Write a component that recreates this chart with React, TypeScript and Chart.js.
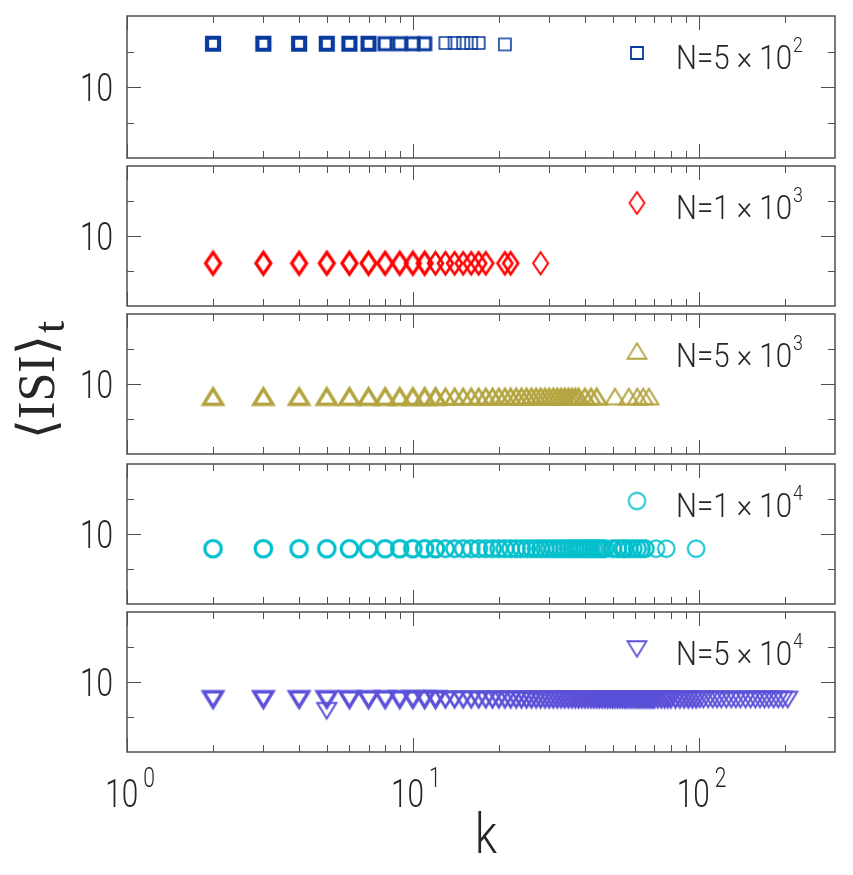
import React, { useEffect, useRef } from 'react';
import { Chart, registerables } from 'chart.js';

Chart.register(...registerables);

const WIDTH = 853;
const HEIGHT = 875;

// ---- node degree k and time-averaged inter-spike interval, one pair of arrays per network size ----
const kN500 = [2, 3, 4, 5, 6, 7, 8, 9, 10, 11, 13, 14, 15, 16, 17, 21];
const isiN500 = [16.1, 16.1, 16.1, 16.1, 16.1, 16.1, 16.1, 16.1, 16.1, 16.1, 16.2, 16.2, 16.2, 16.2, 16.2, 16.0];

const kN1000 = [2, 3, 4, 5, 6, 7, 8, 9, 10, 11, 12, 13, 14, 15, 16, 17, 18, 21, 22, 28];
const isiN1000 = [
  6.1, 6.1, 6.1, 6.1, 6.1, 6.1, 6.1, 6.1, 6.1, 6.1,
  6.1, 6.1, 6.1, 6.1, 6.1, 6.1, 6.1, 6.1, 6.1, 6.1,
];

const kN5000 = [
  2, 3, 4, 5, 6, 7, 8, 9, 10, 11,
  12, 13, 14, 15, 16, 17, 18, 19, 20, 21,
  22, 23, 24, 25, 26, 27, 28, 29, 30, 31,
  32, 33, 34, 35, 36, 37, 38, 40, 42, 44,
  51, 57, 61, 64, 67,
];
const isiN5000 = [
  8.2, 8.2, 8.2, 8.2, 8.2, 8.2, 8.2, 8.2, 8.2, 8.2,
  8.2, 8.2, 8.2, 8.2, 8.2, 8.2, 8.2, 8.2, 8.2, 8.2,
  8.2, 8.2, 8.2, 8.2, 8.2, 8.2, 8.2, 8.2, 8.2, 8.2,
  8.2, 8.2, 8.2, 8.2, 8.2, 8.2, 8.2, 8.2, 8.2, 8.2,
  8.2, 8.2, 8.2, 8.2, 8.2,
];

const kN10000 = [
  2, 3, 4, 5, 6, 7, 8, 9, 10, 11,
  12, 13, 14, 15, 16, 17, 18, 19, 20, 21,
  22, 23, 24, 25, 26, 27, 28, 29, 30, 31,
  32, 33, 34, 35, 36, 37, 38, 39, 40, 41,
  42, 43, 44, 45, 46, 47, 50, 52, 54, 55,
  57, 59, 61, 63, 65, 71, 77, 98,
];
const isiN10000 = [
  7.9, 7.9, 7.9, 7.9, 7.9, 7.9, 7.9, 7.9, 7.9, 7.9,
  7.9, 7.9, 7.9, 7.9, 7.9, 7.9, 7.9, 7.9, 7.9, 7.9,
  7.9, 7.9, 7.9, 7.9, 7.9, 7.9, 7.9, 7.9, 7.9, 7.9,
  7.9, 7.9, 7.9, 7.9, 7.9, 7.9, 7.9, 7.9, 7.9, 7.9,
  7.9, 7.9, 7.9, 7.9, 7.9, 7.9, 7.9, 7.9, 7.9, 7.9,
  7.9, 7.9, 7.9, 7.9, 7.9, 7.9, 7.9, 7.9,
];

const kN50000 = [
  2, 3, 4, 5, 6, 7, 8, 9, 10, 11,
  12, 13, 14, 15, 16, 17, 18, 19, 20, 21,
  22, 23, 24, 25, 26, 27, 28, 29, 30, 31,
  32, 33, 34, 35, 36, 37, 38, 39, 40, 41,
  42, 43, 44, 45, 46, 47, 48, 49, 50, 51,
  52, 53, 54, 55, 56, 57, 58, 59, 60, 61,
  62, 63, 64, 65, 66, 67, 68, 69, 70, 72,
  74, 76, 78, 80, 83, 86, 89, 92, 95, 98,
  101, 104, 108, 112, 116, 120, 125, 130, 135, 140,
  146, 152, 158, 164, 170, 176, 183, 190, 197, 205,
];
const isiN50000 = [
  7.5, 7.5, 7.5, 7.5, 7.5, 7.5, 7.5, 7.5, 7.5, 7.5,
  7.5, 7.5, 7.5, 7.5, 7.5, 7.5, 7.5, 7.5, 7.5, 7.5,
  7.5, 7.5, 7.5, 7.5, 7.5, 7.5, 7.5, 7.5, 7.5, 7.5,
  7.5, 7.5, 7.5, 7.5, 7.5, 7.5, 7.5, 7.5, 7.5, 7.5,
  7.5, 7.5, 7.5, 7.5, 7.5, 7.5, 7.5, 7.5, 7.5, 7.5,
  7.5, 7.5, 7.5, 7.5, 7.5, 7.5, 7.5, 7.5, 7.5, 7.5,
  7.5, 7.5, 7.5, 7.5, 7.5, 7.5, 7.5, 7.5, 7.5, 7.5,
  7.5, 7.5, 7.5, 7.5, 7.5, 7.5, 7.5, 7.5, 7.5, 7.5,
  7.5, 7.5, 7.5, 7.5, 7.5, 7.5, 7.5, 7.5, 7.5, 7.5,
  7.5, 7.5, 7.5, 7.5, 7.5, 7.5, 7.5, 7.5, 7.5, 7.5,
];
// single node sitting below the main band
const kN50000Stray = [5];
const isiN50000Stray = [5.9];

// network size in each panel's key: mantissa x 10^exponent
const sizeMantissas = ['5', '1', '5', '1', '5'];
const sizeExponents = ['2', '3', '3', '4', '4'];

// axes
const xMajorTicks = [1, 10, 100];
const xMinorTicks = [2, 3, 4, 5, 6, 7, 8, 9, 20, 30, 40, 50, 60, 70, 80, 90, 200];
const xTickExponents = ['0', '1', '2'];
const yMajorTicks = [10];
const yMinorTicks = [5, 15];
const yTickLabels = ['10'];
const xTitle = 'k';
const yTitleMain = '\u27E8ISI\u27E9';
const yTitleSub = 't';

// ---- layout & style ----
const PLOT_LEFT = 127;
const PLOT_RIGHT = 835;
const AXIS_COLOR = '#505050';
const TEXT_COLOR = '#262626';
const SANS = 'Roboto, "Liberation Sans", sans-serif';
const SERIF = '"Liberation Serif", "DejaVu Serif", serif';

type Shape = 'square' | 'diamond' | 'tri' | 'circle' | 'triDown';

interface PanelSpec {
  top: number;
  bottom: number;
  shape: Shape;
  color: string;
  ks: number[];
  ys: number[];
  strayKs?: number[];
  strayYs?: number[];
  heavyUpTo: number;
  heavy: number;
  midUpTo: number;
  mid: number;
  light: number;
}

const PANELS: PanelSpec[] = [
  { top: 16, bottom: 158, shape: 'square', color: '#0b3a9e', ks: kN500, ys: isiN500,
    heavyUpTo: 7, heavy: 4.2, midUpTo: 11, mid: 3.2, light: 1.6 },
  { top: 166, bottom: 306, shape: 'diamond', color: '#ff0000', ks: kN1000, ys: isiN1000,
    heavyUpTo: 11, heavy: 3.2, midUpTo: 22, mid: 2.6, light: 2 },
  { top: 314, bottom: 454, shape: 'tri', color: '#b3a43f', ks: kN5000, ys: isiN5000,
    heavyUpTo: 12, heavy: 3.4, midUpTo: 45, mid: 2.6, light: 2 },
  { top: 464, bottom: 604, shape: 'circle', color: '#00bfcc', ks: kN10000, ys: isiN10000,
    heavyUpTo: 12, heavy: 3.2, midUpTo: 66, mid: 2.6, light: 2 },
  { top: 612, bottom: 752, shape: 'triDown', color: '#5b50d8', ks: kN50000, ys: isiN50000,
    strayKs: kN50000Stray, strayYs: isiN50000Stray,
    heavyUpTo: 12, heavy: 3.4, midUpTo: 100, mid: 2.6, light: 2 },
];

const SHAPE_DIMS: Record<Shape, [number, number]> = {
  square: [12, 12],
  diamond: [15, 22],
  tri: [19, 15.5],
  circle: [16.5, 16.5],
  triDown: [19, 15.5],
};

const markerCache = new Map<string, HTMLCanvasElement>();

function marker(shape: Shape, color: string, lw: number): HTMLCanvasElement {
  const key = `${shape}|${color}|${lw}`;
  const hit = markerCache.get(key);
  if (hit) return hit;
  const [w, h] = SHAPE_DIMS[shape];
  const pad = Math.ceil(lw * 1.5) + 2;
  const c = document.createElement('canvas');
  c.width = Math.ceil(w + 2 * pad);
  c.height = Math.ceil(h + 2 * pad);
  const g = c.getContext('2d')!;
  g.translate(c.width / 2, c.height / 2);
  g.strokeStyle = color;
  g.lineWidth = lw;
  g.lineJoin = 'miter';
  g.miterLimit = 4;
  const hw = w / 2;
  const hh = h / 2;
  g.beginPath();
  switch (shape) {
    case 'square':
      g.rect(-hw, -hh, w, h);
      break;
    case 'diamond':
      g.moveTo(0, -hh); g.lineTo(hw, 0); g.lineTo(0, hh); g.lineTo(-hw, 0); g.closePath();
      break;
    case 'tri':
      g.moveTo(0, -hh); g.lineTo(hw, hh); g.lineTo(-hw, hh); g.closePath();
      break;
    case 'triDown':
      g.moveTo(0, hh); g.lineTo(hw, -hh); g.lineTo(-hw, -hh); g.closePath();
      break;
    case 'circle':
      g.arc(0, 0, hw, 0, Math.PI * 2);
      break;
  }
  g.stroke();
  markerCache.set(key, c);
  return c;
}

function lineWeight(p: PanelSpec, k: number): number {
  if (k <= p.heavyUpTo) return p.heavy;
  if (k <= p.midUpTo) return p.mid;
  return p.light;
}

// draws text squeezed horizontally so it spans the given width
function drawFit(ctx: CanvasRenderingContext2D, s: string, x: number, baseline: number,
  font: string, width: number, align: 'left' | 'right' | 'center') {
  ctx.save();
  ctx.font = font;
  ctx.textAlign = 'left';
  ctx.textBaseline = 'alphabetic';
  const natural = ctx.measureText(s).width;
  const sx = width / natural;
  const x0 = align === 'left' ? x : align === 'right' ? x - width : x - width / 2;
  ctx.translate(x0, baseline);
  ctx.scale(sx, 1);
  ctx.fillText(s, 0, 0);
  ctx.restore();
}

function drawScaled(ctx: CanvasRenderingContext2D, s: string, x: number, baseline: number,
  font: string, sx: number): number {
  ctx.save();
  ctx.font = font;
  ctx.textAlign = 'left';
  ctx.textBaseline = 'alphabetic';
  const w = ctx.measureText(s).width * sx;
  ctx.translate(x, baseline);
  ctx.scale(sx, 1);
  ctx.fillText(s, 0, 0);
  ctx.restore();
  return w;
}

function framePlugin(p: PanelSpec, index: number) {
  const isLast = index === PANELS.length - 1;
  return {
    id: `frame${index}`,
    afterDraw(chart: any) {
      const { ctx, chartArea: a } = chart;
      const xs = chart.scales.x;
      const ys = chart.scales.y;
      ctx.save();
      ctx.strokeStyle = AXIS_COLOR;
      ctx.fillStyle = TEXT_COLOR;
      ctx.lineWidth = 1;
      const line = (x1: number, y1: number, x2: number, y2: number) => {
        ctx.beginPath(); ctx.moveTo(x1, y1); ctx.lineTo(x2, y2); ctx.stroke();
      };
      const xTick = (v: number, len: number) => {
        const px = Math.round(xs.getPixelForValue(v)) + 0.5;
        line(px, a.top, px, a.top + len);
        line(px, a.bottom, px, a.bottom - len);
      };
      const yTick = (v: number, len: number) => {
        const py = Math.round(ys.getPixelForValue(v)) + 0.5;
        line(a.left, py, a.left + len, py);
        line(a.right, py, a.right - len, py);
      };
      xMajorTicks.forEach((v) => xTick(v, 14));
      xMinorTicks.forEach((v) => xTick(v, 7));
      yMajorTicks.forEach((v) => yTick(v, 14));
      yMinorTicks.forEach((v) => yTick(v, 7));

      ctx.lineWidth = 1.5;
      ctx.strokeRect(a.left, a.top, a.right - a.left, a.bottom - a.top);

      // y tick label
      yMajorTicks.forEach((v, i) => {
        const py = ys.getPixelForValue(v);
        drawFit(ctx, yTickLabels[i], a.left - 14, py + 14, `300 39px ${SANS}`, 33, 'right');
      });

      // key: marker + network size
      const m = marker(p.shape, p.color, 1.8);
      ctx.drawImage(m, 637 - m.width / 2, a.top + 37 - m.height / 2);
      drawFit(ctx, `N=${sizeMantissas[index]} \u00D7 10`, 676, a.top + 53, `300 33px ${SANS}`, 116, 'left');
      drawScaled(ctx, sizeExponents[index], 793, a.top + 36, `300 21px ${SANS}`, 0.85);

      if (isLast) {
        // x tick labels 10^n
        xMajorTicks.forEach((v, i) => {
          const px = xs.getPixelForValue(v);
          ctx.font = `300 27px ${SANS}`;
          const supW = ctx.measureText(xTickExponents[i]).width * 0.78;
          const total = 33 + 5 + supW;
          const left = px - total / 2 + 3;
          drawFit(ctx, '10', left, a.bottom + 55, `300 39px ${SANS}`, 33, 'left');
          drawScaled(ctx, xTickExponents[i], left + 38, a.bottom + 35, `300 27px ${SANS}`, 0.78);
        });
        // x title
        drawFit(ctx, xTitle, (a.left + a.right) / 2 + 5, a.bottom + 101, `300 56px ${SANS}`, 22, 'center');

        // y title, rotated
        ctx.save();
        ctx.font = `52px ${SERIF}`;
        const mainW = ctx.measureText(yTitleMain).width;
        ctx.font = `44px ${SERIF}`;
        const subW = ctx.measureText(yTitleSub).width;
        const total = mainW + 2 + subW;
        ctx.translate(54, 380 + total / 2);
        ctx.rotate(-Math.PI / 2);
        ctx.textAlign = 'left';
        ctx.textBaseline = 'alphabetic';
        ctx.font = `52px ${SERIF}`;
        ctx.fillText(yTitleMain, 0, 0);
        ctx.font = `44px ${SERIF}`;
        ctx.fillText(yTitleSub, mainW + 2, 10);
        ctx.restore();
      }
      ctx.restore();
    },
  };
}

function makeConfig(p: PanelSpec, index: number): any {
  const datasets: any[] = [
    {
      data: p.ks.map((k, j) => ({ x: k, y: p.ys[j] })),
      pointStyle: (c: any) => marker(p.shape, p.color, lineWeight(p, c.raw ? c.raw.x : 1000)),
      pointRadius: 8,
      showLine: false,
    },
  ];
  if (p.strayKs && p.strayYs) {
    const sy = p.strayYs;
    datasets.push({
      data: p.strayKs.map((k, j) => ({ x: k, y: sy[j] })),
      pointStyle: marker(p.shape, p.color, 2),
      pointRadius: 8,
      showLine: false,
    });
  }
  return {
    type: 'scatter',
    data: { datasets },
    options: {
      animation: false,
      responsive: false,
      devicePixelRatio: 1,
      events: [],
      layout: {
        padding: { left: PLOT_LEFT, right: WIDTH - PLOT_RIGHT, top: p.top, bottom: HEIGHT - p.bottom },
      },
      scales: {
        x: { type: 'logarithmic', min: 1, max: 300, display: false },
        y: { type: 'linear', min: 0, max: 20, display: false },
      },
      plugins: { legend: { display: false }, tooltip: { enabled: false } },
    },
    plugins: [framePlugin(p, index)],
  };
}

export default function App() {
  const refs = useRef<(HTMLCanvasElement | null)[]>([]);
  useEffect(() => {
    const charts = PANELS.map((p, i) => new Chart(refs.current[i] as HTMLCanvasElement, makeConfig(p, i)));
    return () => charts.forEach((c) => c.destroy());
  }, []);
  return (
    <div style={{ position: 'absolute', left: 0, top: 0, width: WIDTH, height: HEIGHT, background: '#ffffff' }}>
      {PANELS.map((_, i) => (
        <canvas
          key={i}
          ref={(el) => { refs.current[i] = el; }}
          width={WIDTH}
          height={HEIGHT}
          style={{ position: 'absolute', left: 0, top: 0, width: WIDTH, height: HEIGHT }}
        />
      ))}
    </div>
  );
}
